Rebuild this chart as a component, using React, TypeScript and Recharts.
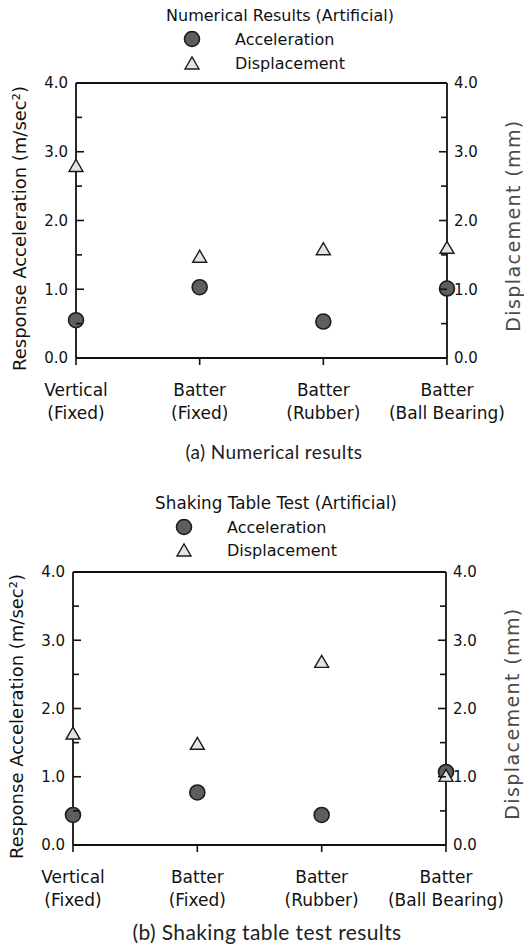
import { ComposedChart, Scatter, XAxis, YAxis, ReferenceLine } from "recharts";

// categories along the x axis (second word group goes on the second line)
const categories = [
  "Vertical (Fixed)",
  "Batter (Fixed)",
  "Batter (Rubber)",
  "Batter (Ball Bearing)",
];

// (a) numerical results
const numericalAccel = [0.55, 1.03, 0.53, 1.01];
const numericalDisp = [2.8, 1.48, 1.59, 1.61];

// (b) shaking table test results
const shakingAccel = [0.44, 0.77, 0.44, 1.07];
const shakingDisp = [1.64, 1.49, 2.69, 1.02];

const yTicks = [0, 0.5, 1, 1.5, 2, 2.5, 3, 3.5, 4];

const INK = "#111";
const SANS = "'DejaVu Sans', Verdana, sans-serif";
const CAPTION_FONT = "Lato, 'Open Sans', sans-serif";

function AccelMarker(props: any) {
  const { cx, cy } = props;
  return <circle cx={cx} cy={cy} r={7.5} fill="#5e5e5e" stroke="#1c1c1c" strokeWidth={1.6} />;
}

function DispMarker(props: any) {
  const { cx, cy } = props;
  const w = 7;
  const h = 12;
  const pts = `${cx - w},${cy + h / 2} ${cx + w},${cy + h / 2} ${cx},${cy - h / 2}`;
  return <polygon points={pts} fill="#e4e4e4" stroke="#1c1c1c" strokeWidth={1.4} strokeLinejoin="miter" />;
}

// ticks point into the plot; only whole numbers get a label
function LeftTick(props: any) {
  const { x, y, payload } = props;
  const ax = x + 8;
  const major = payload.value % 1 === 0;
  return (
    <g>
      <line x1={ax} x2={ax + (major ? 8 : 6)} y1={y} y2={y} stroke={INK} strokeWidth={1.6} />
      {major && (
        <text x={x} y={y} dy="0.36em" textAnchor="end" fontFamily={SANS} fontSize={15} fill={INK}>
          {payload.value.toFixed(1)}
        </text>
      )}
    </g>
  );
}

function RightTick(props: any) {
  const { x, y, payload } = props;
  const ax = x - 7;
  const major = payload.value % 1 === 0;
  return (
    <g>
      <line x1={ax} x2={ax - (major ? 8 : 6)} y1={y} y2={y} stroke={INK} strokeWidth={1.6} />
      {major && (
        <text x={x} y={y} dy="0.36em" textAnchor="start" fontFamily={SANS} fontSize={15} fill={INK}>
          {payload.value.toFixed(1)}
        </text>
      )}
    </g>
  );
}

function CategoryTick(props: any) {
  const { x, y, payload } = props;
  const cut = payload.value.indexOf(" ");
  const first = payload.value.slice(0, cut);
  const second = payload.value.slice(cut + 1);
  return (
    <text textAnchor="middle" fontFamily={SANS} fontSize={17} fill={INK}>
      <tspan x={x} y={y + 31}>{first}</tspan>
      <tspan x={x} y={y + 54}>{second}</tspan>
    </text>
  );
}

function LeftTitle(props: any) {
  const vb = props.viewBox || {};
  const cx = vb.x + vb.width - 57;
  const cy = vb.y + vb.height / 2 + 8;
  return (
    <text
      x={cx}
      y={cy}
      transform={`rotate(-90 ${cx} ${cy})`}
      textAnchor="middle"
      dominantBaseline="central"
      fontFamily={SANS}
      fontSize={18}
      fill={INK}
    >
      Response Acceleration (m/sec²)
    </text>
  );
}

function RightTitle(props: any) {
  const vb = props.viewBox || {};
  const cx = vb.x + 66;
  const cy = vb.y + vb.height / 2 + 5;
  return (
    <text
      x={cx}
      y={cy}
      transform={`rotate(-90 ${cx} ${cy})`}
      textAnchor="middle"
      dominantBaseline="central"
      fontFamily={SANS}
      fontSize={19}
      letterSpacing={1.4}
      fill="#4a4a4a"
    >
      Displacement (mm)
    </text>
  );
}

type PanelProps = {
  top: number;
  title: string;
  titleSize: number;
  caption: string;
  captionSize: number;
  accel: number[];
  disp: number[];
  plotLeft: number;
  plotRight: number;
  plotBottom: number;
  legendX: number;
  titleX: number;
  captionX: number;
  captionY: number;
  legendRows: [number, number];
  titleY: number;
};

const WIDTH = 524;
const PANEL_H = 470;
const PLOT_TOP = 83;
const AXIS_W = 40;
const XAXIS_H = 30;

function ResultPanel(p: PanelProps) {
  const data = categories.map((name, i) => ({ name, accel: p.accel[i], disp: p.disp[i] }));
  return (
    <div style={{ position: "absolute", left: 0, top: p.top, width: WIDTH, height: PANEL_H }}>
      <ComposedChart
        width={WIDTH}
        height={PANEL_H}
        data={data}
        margin={{
          top: PLOT_TOP,
          left: p.plotLeft - AXIS_W,
          right: WIDTH - p.plotRight - AXIS_W,
          bottom: PANEL_H - p.plotBottom - XAXIS_H,
        }}
      >
        <XAxis
          dataKey="name"
          type="category"
          scale="point"
          padding={{ left: 0, right: 0 }}
          height={XAXIS_H}
          interval={0}
          tickSize={7}
          tickMargin={0}
          axisLine={{ stroke: INK, strokeWidth: 1.8 }}
          tickLine={{ stroke: INK, strokeWidth: 1.6 }}
          tick={<CategoryTick />}
        />
        <YAxis
          yAxisId="accel"
          orientation="left"
          domain={[0, 4]}
          ticks={yTicks}
          interval={0}
          width={AXIS_W}
          tickSize={0}
          tickMargin={8}
          tickLine={false}
          axisLine={{ stroke: INK, strokeWidth: 1.8 }}
          tick={<LeftTick />}
          label={<LeftTitle />}
        />
        <YAxis
          yAxisId="disp"
          orientation="right"
          domain={[0, 4]}
          ticks={yTicks}
          interval={0}
          width={AXIS_W}
          tickSize={0}
          tickMargin={7}
          tickLine={false}
          axisLine={{ stroke: INK, strokeWidth: 1.8 }}
          tick={<RightTick />}
          label={<RightTitle />}
        />
        <ReferenceLine yAxisId="accel" y={4} stroke={INK} strokeWidth={1.8} />
        <Scatter
          name="Acceleration"
          yAxisId="accel"
          dataKey="accel"
          shape={<AccelMarker />}
          isAnimationActive={false}
        />
        <Scatter
          name="Displacement"
          yAxisId="disp"
          dataKey="disp"
          shape={<DispMarker />}
          isAnimationActive={false}
        />
      </ComposedChart>
      <svg
        width={WIDTH}
        height={PANEL_H}
        style={{ position: "absolute", left: 0, top: 0, pointerEvents: "none" }}
      >
        <text
          x={p.titleX}
          y={p.titleY}
          textAnchor="middle"
          dominantBaseline="central"
          fontFamily={SANS}
          fontSize={p.titleSize}
          fill={INK}
        >
          {p.title}
        </text>
        <AccelMarker cx={p.legendX} cy={p.legendRows[0]} />
        <text x={p.legendX + 43} y={p.legendRows[0]} dominantBaseline="central" fontFamily={SANS} fontSize={16} fill={INK}>
          Acceleration
        </text>
        <DispMarker cx={p.legendX} cy={p.legendRows[1]} />
        <text x={p.legendX + 43} y={p.legendRows[1]} dominantBaseline="central" fontFamily={SANS} fontSize={16} fill={INK}>
          Displacement
        </text>
        <text
          x={p.captionX}
          y={p.captionY}
          textAnchor="middle"
          dominantBaseline="central"
          fontFamily={CAPTION_FONT}
          fontSize={p.captionSize}
          letterSpacing={0.4}
          fill="#222"
        >
          {p.caption}
        </text>
      </svg>
    </div>
  );
}

export default function App() {
  return (
    <div style={{ position: "relative", width: WIDTH, height: 947, background: "#fff" }}>
      <style>{"body{margin:0}"}</style>
      <ResultPanel
        top={0}
        title="Numerical Results (Artificial)"
        titleSize={16}
        caption="(a) Numerical results"
        captionSize={19}
        accel={numericalAccel}
        disp={numericalDisp}
        plotLeft={76}
        plotRight={447}
        plotBottom={358}
        titleX={280}
        titleY={15}
        legendX={192}
        legendRows={[39, 63]}
        captionX={274}
        captionY={451}
      />
      <ResultPanel
        top={489}
        title="Shaking Table Test (Artificial)"
        titleSize={16.8}
        caption="(b) Shaking table test results"
        captionSize={21}
        accel={shakingAccel}
        disp={shakingDisp}
        plotLeft={73}
        plotRight={446}
        plotBottom={356}
        titleX={276}
        titleY={14}
        legendX={184}
        legendRows={[38, 61]}
        captionX={267}
        captionY={442}
      />
    </div>
  );
}
